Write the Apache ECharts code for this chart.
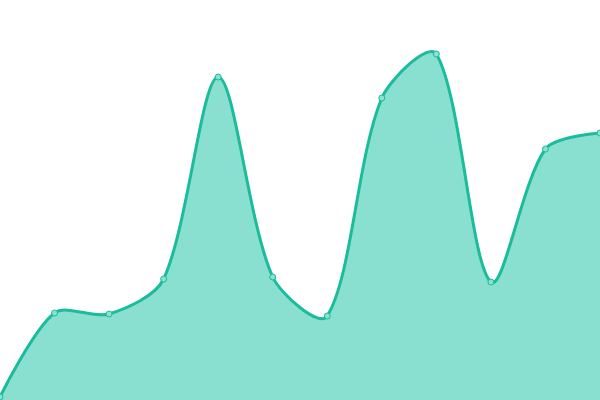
<!DOCTYPE html>
<html><head><meta charset="utf-8">
<script src="https://cdn.jsdelivr.net/npm/echarts@6/dist/echarts.min.js"></script>
<style>html,body{margin:0;padding:0;background:#fff}#c{width:600px;height:400px}</style>
</head><body><div id="c"></div>
<script>
const categories = ['1','2','3','4','5','6','7','8','9','10','11','12'];
const values = [3, 87, 86, 121, 323, 123, 84, 302, 346, 118, 251, 267];

function smoothBezier(points, smooth) {
  const n = points.length;
  const cps = [];
  for (let i = 0; i < n; i++) {
    const p = points[i];
    if (i === 0 || i === n - 1) { cps.push([p[0], p[1]]); continue; }
    const a = points[i - 1], b = points[i + 1];
    const vx = (b[0] - a[0]) * smooth, vy = (b[1] - a[1]) * smooth;
    let d0 = Math.hypot(p[0] - a[0], p[1] - a[1]);
    let d1 = Math.hypot(p[0] - b[0], p[1] - b[1]);
    const s = d0 + d1;
    if (s !== 0) { d0 /= s; d1 /= s; }
    cps.push([p[0] - vx * d0, p[1] - vy * d0]);
    cps.push([p[0] + vx * d1, p[1] + vy * d1]);
  }
  return cps;
}

const chart = echarts.init(document.getElementById('c'));
chart.setOption({
  animation: false,
  grid: {left: 0, right: 0, top: 0, bottom: 0},
  xAxis: {type: 'category', data: categories, boundaryGap: false, show: false},
  yAxis: {type: 'value', min: 0, max: 400, show: false},
  series: [{
    type: 'custom',
    data: values.map((v, i) => [i, v]),
    clip: false,
    z: 1,
    renderItem: function (params, api) {
      if (params.dataIndex !== 0) return null;
      const pts = values.map((v, i) => api.coord([i, v]));
      const cps = smoothBezier(pts, 0.3);
      let d = 'M' + pts[0][0] + ' ' + pts[0][1];
      for (let i = 0; i < pts.length - 1; i++) {
        const c0 = cps[2 * i], c1 = cps[2 * i + 1], p = pts[i + 1];
        d += ' C' + c0[0] + ' ' + c0[1] + ' ' + c1[0] + ' ' + c1[1] + ' ' + p[0] + ' ' + p[1];
      }
      const base = api.coord([0, 0])[1];
      const last = pts[pts.length - 1];
      const area = d + ' L' + last[0] + ' ' + base + ' L' + pts[0][0] + ' ' + base + ' Z';
      return {
        type: 'group',
        children: [
          {type: 'path', shape: {pathData: area}, style: {fill: '#8ae0d0', stroke: null}},
          {type: 'path', shape: {pathData: d}, style: {fill: null, stroke: '#1abc9c', lineWidth: 3}}
        ]
      };
    }
  }, {
    type: 'scatter',
    data: values.map((v, i) => [i, v]),
    symbol: 'circle',
    symbolSize: 6,
    z: 3,
    itemStyle: {color: '#8ce0d0', borderColor: '#1abc9c', borderWidth: 1, opacity: 1}
  }]
});
</script></body></html>
